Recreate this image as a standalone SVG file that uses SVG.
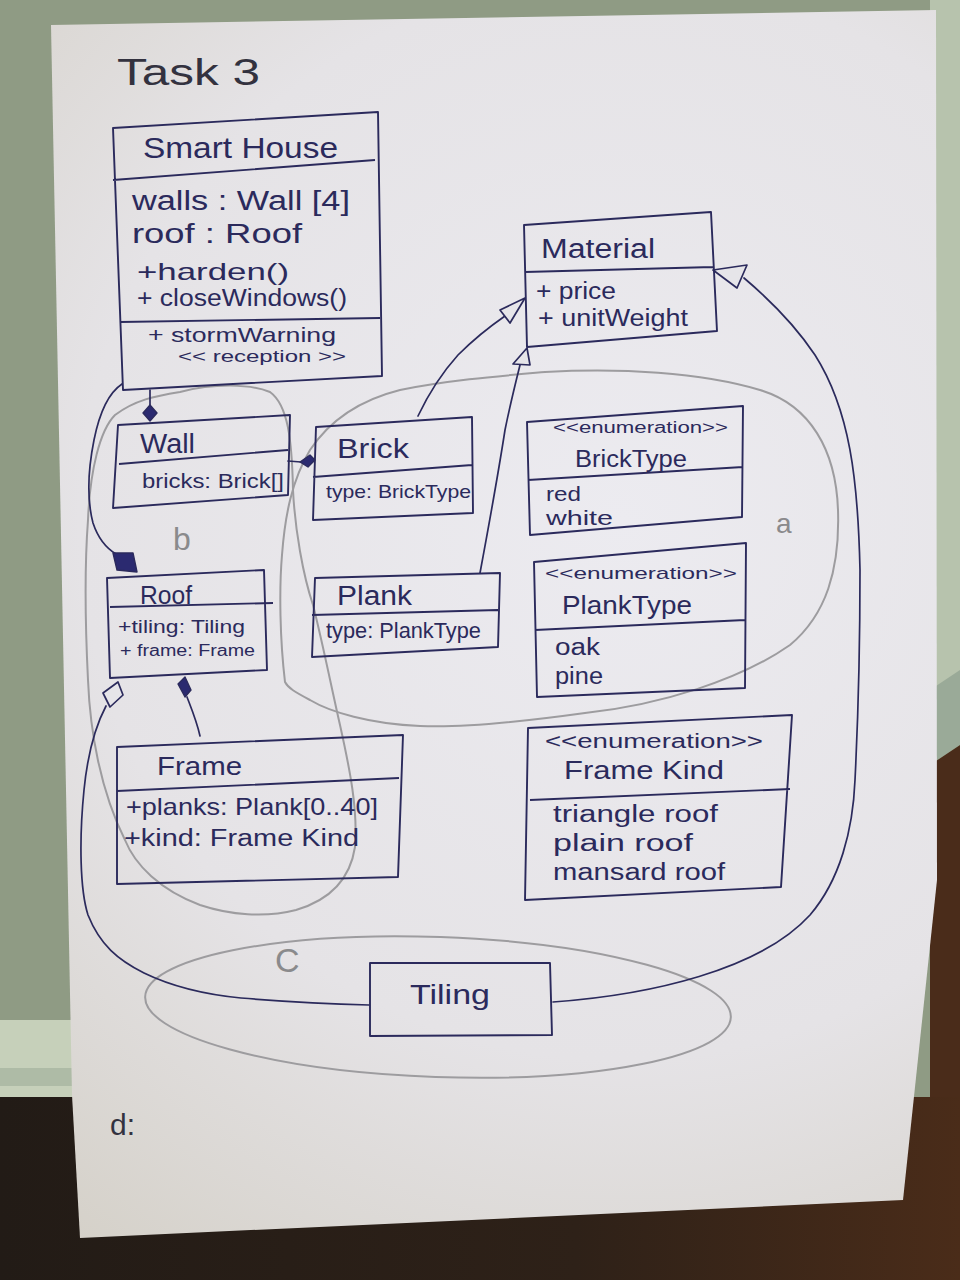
<svg xmlns="http://www.w3.org/2000/svg" width="960" height="1280" viewBox="0 0 960 1280">
<defs>
<radialGradient id="paperGrad" cx="620" cy="520" r="900" gradientUnits="userSpaceOnUse">
<stop offset="0" stop-color="#ecebf0"/>
<stop offset="0.6" stop-color="#e5e3e6"/>
<stop offset="1" stop-color="#d5d1c9"/>
</radialGradient>
<linearGradient id="floorGrad" x1="0" y1="0" x2="1" y2="0">
<stop offset="0" stop-color="#221b16"/>
<stop offset="0.6" stop-color="#2e2118"/>
<stop offset="1" stop-color="#4a2c19"/>
</linearGradient>
<style>
.box{fill:none;stroke:#2b2a5c;stroke-width:1.9;stroke-linejoin:round}
.ink{fill:none;stroke:#2b2a5c;stroke-width:1.7;stroke-linecap:round}
.hollow{fill:#e6e5e9;stroke:#2b2a5c;stroke-width:1.7;stroke-linejoin:round}
.filled{fill:#2b2a70;stroke:#2b2a5c;stroke-width:1.4;stroke-linejoin:round}
.pencil{fill:none;stroke:#9d9c9f;stroke-width:2}
text{font-family:"Liberation Sans","DejaVu Sans",sans-serif;fill:#2b2a5c}
.lbl{fill:#8a8a8c}
.dark{fill:#33323f}
</style>
</defs>

<!-- background -->
<rect x="0" y="0" width="960" height="1280" fill="#8f9b84"/>
<rect x="930" y="0" width="30" height="760" fill="#b7c3ad"/>
<polygon points="930,690 960,670 960,745 930,765" fill="#9aaa98"/>
<polygon points="930,765 960,745 960,1280 930,1280" fill="#4a2c1a"/>
<rect x="0" y="1020" width="80" height="78" fill="#c6d0ba"/>
<rect x="0" y="1068" width="80" height="18" fill="#aebba6"/>
<rect x="0" y="1097" width="960" height="183" fill="url(#floorGrad)"/>

<!-- paper -->
<polygon points="51,25 936,10 937,880 903,1200 80,1238 72,1095" fill="url(#paperGrad)"/>

<!-- title -->
<text x="117" y="85" font-size="36" textLength="143" lengthAdjust="spacingAndGlyphs" class="dark">Task  3</text>
<text x="110" y="1135" font-size="30" class="dark">d:</text>

<!-- pencil groupings -->
<g id="group-a">
<path class="pencil" d="M285,682 C280,640 279,590 282,555 C285,515 292,480 310,450 C330,420 360,400 400,390 C450,380 500,376 545,372 C620,368 700,372 760,390 C810,405 836,450 838,510 C840,570 826,615 790,645 C740,680 660,705 585,713 C520,722 460,728 420,726 C370,724 330,712 310,700 C295,692 288,688 285,682 Z"/>
<text x="776" y="533" font-size="28" class="lbl">a</text>
</g>
<g id="group-b">
<path class="pencil" d="M180,392 C215,383 250,384 270,392 C288,405 292,440 293,490 C295,530 303,575 313,605 C322,640 332,690 340,725 C350,770 358,810 355,847 C350,880 330,900 296,910 C265,918 230,915 200,905 C160,890 135,865 125,840 C100,790 90,730 88,680 C85,620 85,560 88,520 C90,470 100,430 115,415 C135,400 155,396 180,392 Z"/>
<text x="173" y="550" font-size="32" class="lbl">b</text>
</g>
<g id="group-c">
<ellipse class="pencil" cx="438" cy="1007" rx="293" ry="70" transform="rotate(2 438 1007)"/>
<text x="275" y="972" font-size="34" class="lbl">C</text>
</g>

<!-- connectors -->
<g id="connectors">
<path class="ink" d="M150,390 L150,406"/>
<polygon class="filled" points="143,413 150,405 157,413 150,421"/>
<path class="ink" d="M288,461 L301,462"/>
<polygon class="filled" points="300,462 310,455 315,460 308,467"/>
<path class="ink" d="M122,384 C110,392 100,410 94,440 C88,470 87,500 93,523 C98,538 106,548 116,554"/>
<polygon class="filled" points="113,553 133,553 137,572 117,570"/>
<polygon class="filled" points="178,684 185,677 191,690 185,697"/>
<path class="ink" d="M187,697 C192,710 197,722 200,736"/>
<polygon class="hollow" points="103,693 118,682 123,695 110,707"/>
<path class="ink" d="M106,706 C96,725 88,750 84,790 C79,840 80,890 88,915 C100,945 118,960 144,973 C175,988 210,995 241,998 C290,1002 330,1004 369,1005"/>
<path class="ink" d="M418,416 C428,395 440,375 458,355 C475,338 492,325 505,316"/>
<polygon class="hollow" points="500,310 510,323 525,298"/>
<path class="ink" d="M480,573 C488,530 498,475 505,430 C510,405 515,385 520,365"/>
<polygon class="hollow" points="513,364 530,365 527,348"/>
<path class="ink" d="M553,1002 C650,995 760,970 810,915 C840,880 853,830 855,780 C858,720 860,650 860,570 C858,480 850,410 815,355 C795,325 770,300 744,278"/>
<polygon class="hollow" points="713,270 747,265 737,288"/>
</g>

<!-- nodes -->
<g id="node-smarthouse">
<path class="box" d="M113,128 L378,112 L382,376 L123,390 Z M113,180 L375,160 M120,322 L380,318"/>
<text x="143" y="158" font-size="30" textLength="195" lengthAdjust="spacingAndGlyphs">Smart House</text>
<text x="132" y="210" font-size="27" textLength="218" lengthAdjust="spacingAndGlyphs">walls : Wall [4]</text>
<text x="132" y="243" font-size="27" textLength="170" lengthAdjust="spacingAndGlyphs">roof : Roof</text>
<text x="137" y="280" font-size="24" textLength="152" lengthAdjust="spacingAndGlyphs">+harden()</text>
<text x="137" y="306" font-size="23" textLength="210" lengthAdjust="spacingAndGlyphs">+ closeWindows()</text>
<text x="148" y="342" font-size="21" textLength="188" lengthAdjust="spacingAndGlyphs">+ stormWarning</text>
<text x="178" y="362" font-size="17" textLength="168" lengthAdjust="spacingAndGlyphs">&lt;&lt; reception &gt;&gt;</text>
</g>

<g id="node-material">
<path class="box" d="M524,225 L711,212 L717,331 L527,347 Z M525,272 L713,267"/>
<text x="541" y="258" font-size="27" textLength="114" lengthAdjust="spacingAndGlyphs">Material</text>
<text x="536" y="299" font-size="23" textLength="80" lengthAdjust="spacingAndGlyphs">+ price</text>
<text x="538" y="326" font-size="23" textLength="150" lengthAdjust="spacingAndGlyphs">+ unitWeight</text>
</g>

<g id="node-wall">
<path class="box" d="M118,425 L290,415 L288,495 L113,508 Z M119,464 L288,450"/>
<text x="140" y="453" font-size="27" textLength="55" lengthAdjust="spacingAndGlyphs">Wall</text>
<text x="142" y="488" font-size="20" textLength="142" lengthAdjust="spacingAndGlyphs">bricks: Brick[]</text>
</g>

<g id="node-brick">
<path class="box" d="M316,427 L472,417 L473,513 L313,520 Z M313,477 L472,465"/>
<text x="337" y="458" font-size="27" textLength="72" lengthAdjust="spacingAndGlyphs">Brick</text>
<text x="326" y="498" font-size="19" textLength="145" lengthAdjust="spacingAndGlyphs">type: BrickType</text>
</g>

<g id="node-plank">
<path class="box" d="M315,578 L500,573 L498,647 L312,657 Z M312,615 L498,610"/>
<text x="337" y="605" font-size="27" textLength="75" lengthAdjust="spacingAndGlyphs">Plank</text>
<text x="326" y="638" font-size="22" textLength="155" lengthAdjust="spacingAndGlyphs">type: PlankType</text>
</g>

<g id="node-roof">
<path class="box" d="M107,578 L264,570 L267,670 L110,678 Z M110,607 L273,603"/>
<text x="140" y="604" font-size="25" textLength="52" lengthAdjust="spacingAndGlyphs">Roof</text>
<text x="118" y="633" font-size="19" textLength="127" lengthAdjust="spacingAndGlyphs">+tiling: Tiling</text>
<text x="120" y="656" font-size="16" textLength="135" lengthAdjust="spacingAndGlyphs">+ frame: Frame</text>
</g>

<g id="node-frame">
<path class="box" d="M117,747 L403,735 L398,877 L117,884 Z M117,791 L399,778"/>
<text x="157" y="775" font-size="25" textLength="85" lengthAdjust="spacingAndGlyphs">Frame</text>
<text x="126" y="815" font-size="24" textLength="252" lengthAdjust="spacingAndGlyphs">+planks: Plank[0..40]</text>
<text x="124" y="846" font-size="23" textLength="235" lengthAdjust="spacingAndGlyphs">+kind: Frame Kind</text>
</g>

<g id="node-bricktype">
<path class="box" d="M527,422 L743,406 L742,517 L530,535 Z M528,480 L743,467"/>
<text x="553" y="433" font-size="16" textLength="175" lengthAdjust="spacingAndGlyphs">&lt;&lt;enumeration&gt;&gt;</text>
<text x="575" y="467" font-size="23" textLength="112" lengthAdjust="spacingAndGlyphs">BrickType</text>
<text x="546" y="501" font-size="20" textLength="35" lengthAdjust="spacingAndGlyphs">red</text>
<text x="546" y="525" font-size="20" textLength="67" lengthAdjust="spacingAndGlyphs">white</text>
</g>

<g id="node-planktype">
<path class="box" d="M534,562 L746,543 L745,688 L537,697 Z M535,630 L745,620"/>
<text x="545" y="579" font-size="17" textLength="192" lengthAdjust="spacingAndGlyphs">&lt;&lt;enumeration&gt;&gt;</text>
<text x="562" y="614" font-size="25" textLength="130" lengthAdjust="spacingAndGlyphs">PlankType</text>
<text x="555" y="655" font-size="23" textLength="45" lengthAdjust="spacingAndGlyphs">oak</text>
<text x="555" y="684" font-size="23" textLength="48" lengthAdjust="spacingAndGlyphs">pine</text>
</g>

<g id="node-framekind">
<path class="box" d="M528,728 L792,715 L781,887 L525,900 Z M530,800 L790,789"/>
<text x="545" y="748" font-size="20" textLength="218" lengthAdjust="spacingAndGlyphs">&lt;&lt;enumeration&gt;&gt;</text>
<text x="564" y="779" font-size="25" textLength="160" lengthAdjust="spacingAndGlyphs">Frame Kind</text>
<text x="553" y="822" font-size="23" textLength="165" lengthAdjust="spacingAndGlyphs">triangle roof</text>
<text x="553" y="851" font-size="23" textLength="140" lengthAdjust="spacingAndGlyphs">plain roof</text>
<text x="553" y="880" font-size="23" textLength="172" lengthAdjust="spacingAndGlyphs">mansard roof</text>
</g>

<g id="node-tiling">
<path class="box" d="M370,963 L550,963 L552,1035 L370,1036 Z"/>
<text x="410" y="1004" font-size="27" textLength="80" lengthAdjust="spacingAndGlyphs">Tiling</text>
</g>
</svg>
